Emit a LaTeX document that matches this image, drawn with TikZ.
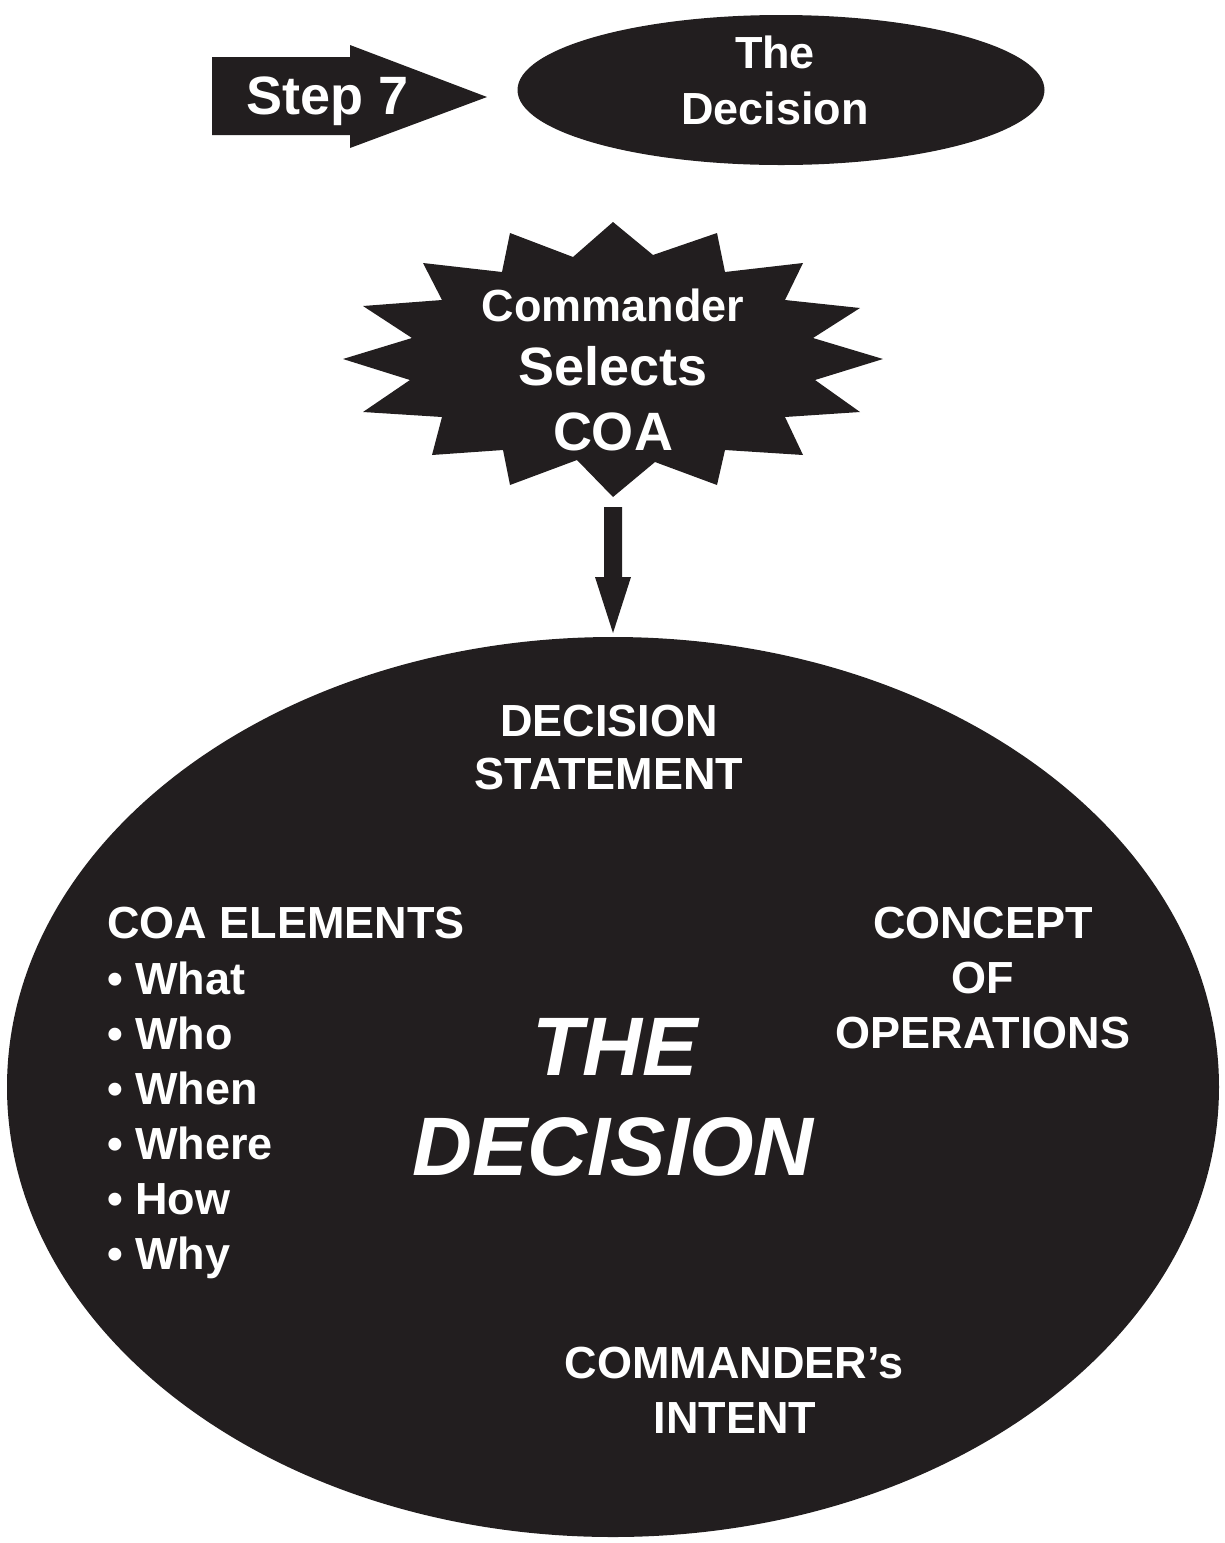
\documentclass[tikz,border=0pt]{standalone}
\usepackage{fontspec}
\setmainfont{Liberation Sans}
\usetikzlibrary{shapes.geometric}
\definecolor{ink}{HTML}{221E1F}
\tikzset{
  wt/.style={text=white, inner sep=0pt, anchor=base, font=\fontsize{45}{55}\selectfont\bfseries},
  wbig/.style={wt, font=\fontsize{54}{60}\selectfont\bfseries},
  whuge/.style={wt, font=\fontsize{83}{90}\selectfont\bfseries\itshape},
  blob/.style={ellipse, fill=ink, draw=none, inner sep=0pt},
}
\begin{document}
\begin{tikzpicture}[x=1pt,y=-1pt]
\useasboundingbox (0,0) rectangle (1225,1543);
% Step 7 arrow
\fill[ink] (212,57) -- (350,57) -- (350,45) -- (487,97) -- (350,148) -- (350,135) -- (212,135) -- cycle;
\node[wbig] (step) at (328,114) {Step 7};
% top ellipse
\node[blob, minimum width=527, minimum height=150] (topell) at (781,90) {};
\node[wt] (the1) at (775,68) {The};
\node[wt] (dec1) at (775,124) {Decision};
% starburst
\fill[ink] (613,222) -- (653,255) -- (717,233) -- (725,272) -- (803,263) -- (785,300) -- (860,308) -- (813,338)
  -- (883,359) -- (815,380) -- (860,412) -- (785,417) -- (803,455) -- (725,450) -- (717,485) -- (655,462)
  -- (613,497) -- (577,460) -- (510,485) -- (503,450) -- (432,455) -- (442,417) -- (363,412) -- (410,380)
  -- (343,359) -- (412,338) -- (363,306) -- (442,300) -- (423,263) -- (502,272) -- (510,233) -- (573,257) -- cycle;
\coordinate (starbot) at (613,507);
\node[wt] (cmd) at (613,321) {Commander};
\node[wbig] (sel) at (613,385) {Selects};
\node[wbig] (coa) at (613,450) {COA};
% big ellipse
\node[blob, minimum width=1212, minimum height=900] (big) at (613,1087) {};
% down arrow
\fill[ink] ([xshift=-9]starbot) -- ([xshift=9]starbot) -- ([xshift=9]starbot |- 0,577) -- (631,577) -- (613,633) -- (595,577) -- ([xshift=-9]starbot |- 0,577) -- cycle;
% texts in ellipse
\node[wt] (ds1) at (609,736) {DECISION};
\node[wt] (ds2) at (609,789) {STATEMENT};
\node[wt, anchor=base west] (ce) at (107,938) {COA ELEMENTS};
\node[wt, anchor=base west] (b1) at (107,994) {• What};
\node[wt, anchor=base west] (b2) at (107,1049) {• Who};
\node[wt, anchor=base west] (b3) at (107,1104) {• When};
\node[wt, anchor=base west] (b4) at (107,1159) {• Where};
\node[wt, anchor=base west] (b5) at (107,1214) {• How};
\node[wt, anchor=base west] (b6) at (107,1269) {• Why};
\node[wt] (co1) at (983,938) {CONCEPT};
\node[wt] (co2) at (983,993) {OF};
\node[wt] (co3) at (983,1048) {OPERATIONS};
\node[whuge] (td1) at (615,1075) {THE};
\node[whuge] (td2) at (613,1175) {DECISION};
\node[wt] (ci1) at (734,1378) {COMMANDER’s};
\node[wt] (ci2) at (735,1433) {INTENT};
\end{tikzpicture}
\end{document}
